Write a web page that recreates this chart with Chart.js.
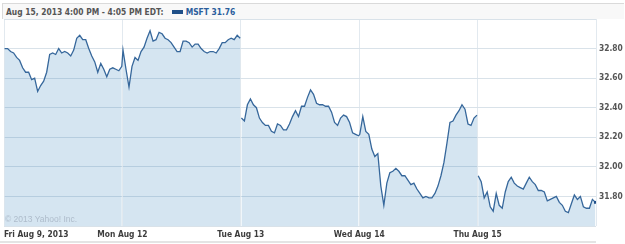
<!DOCTYPE html>
<html>
<head>
<meta charset="utf-8">
<script src="https://cdn.jsdelivr.net/npm/chart.js@4"></script>
<style>
  body { margin: 0; background: #fff; }
  #wrap { position: relative; width: 625px; height: 244px; }
  #head {
    position: absolute; left: 2px; top: 3px; width: 622px; height: 16px;
    border-top: 1px solid #dadada; border-left: 1px solid #dadada;
    background: #f8f8f8; box-sizing: border-box;
    font: bold 8.4px "DejaVu Sans Condensed", "DejaVu Sans", sans-serif;
    color: #555; line-height: 16px; padding-left: 3px; white-space: nowrap;
  }
  #head .mark { display: inline-block; width: 11px; height: 4px; background: #1f4f88; margin: 0 3px 0 8px; vertical-align: 1px; }
  #head .sym { color: #2b5e9c; }
  #copy {
    position: absolute; left: 5px; top: 214px;
    font: 8.5px "Liberation Sans", Arial, sans-serif; color: #aebccb;
  }
  #foot { position: absolute; left: 0; top: 241px; width: 596px; height: 2px; background: #e4e4e4; }
</style>
</head>
<body>
<div id="wrap">
  <canvas id="line-chart"></canvas>
  <div id="head">Aug 15, 2013 4:00 PM - 4:05 PM EDT:<span class="mark"></span><span class="sym">MSFT 31.76</span></div>
  <div id="copy">&copy; 2013 Yahoo! Inc.</div>
  <div id="foot"></div>
</div>
<script>
var dayLabels = ["Fri Aug 9, 2013", "Mon Aug 12", "Tue Aug 13", "Wed Aug 14", "Thu Aug 15", ""];

// MSFT price through each session
var fri = [32.80, 32.80, 32.78, 32.77, 32.74, 32.72, 32.67, 32.64, 32.64, 32.59, 32.60, 32.51, 32.55, 32.58, 32.64, 32.76, 32.77, 32.76, 32.80, 32.77,
  32.78, 32.77, 32.75, 32.79, 32.87, 32.89, 32.86, 32.86, 32.80, 32.75, 32.71, 32.64, 32.70, 32.66, 32.61, 32.66, 32.67, 32.66, 32.65, 32.68];
var mon = [32.79, 32.66, 32.54, 32.68, 32.74, 32.72, 32.78, 32.81, 32.87, 32.92, 32.85, 32.86, 32.91, 32.90, 32.87, 32.86, 32.84, 32.81, 32.78, 32.78,
  32.85, 32.85, 32.84, 32.81, 32.83, 32.83, 32.80, 32.78, 32.77, 32.78, 32.78, 32.77, 32.80, 32.84, 32.84, 32.86, 32.87, 32.86, 32.89, 32.87];
var tue = [32.33, 32.31, 32.42, 32.46, 32.42, 32.40, 32.33, 32.30, 32.28, 32.28, 32.24, 32.23, 32.29, 32.28, 32.25, 32.25, 32.29, 32.34, 32.38, 32.34,
  32.41, 32.41, 32.47, 32.52, 32.49, 32.43, 32.42, 32.42, 32.41, 32.41, 32.37, 32.30, 32.28, 32.33, 32.35, 32.34, 32.30, 32.23, 32.22, 32.21];
var wed = [32.22, 32.34, 32.24, 32.22, 32.12, 32.07, 32.09, 31.87, 31.74, 31.89, 31.96, 31.97, 31.99, 31.97, 31.94, 31.94, 31.91, 31.88, 31.89, 31.85,
  31.82, 31.79, 31.80, 31.79, 31.79, 31.82, 31.87, 31.94, 32.03, 32.16, 32.30, 32.31, 32.35, 32.38, 32.42, 32.39, 32.29, 32.28, 32.33, 32.35];
var thu = [31.94, 31.90, 31.79, 31.83, 31.73, 31.70, 31.82, 31.74, 31.72, 31.83, 31.90, 31.93, 31.89, 31.87, 31.86, 31.85, 31.89, 31.93, 31.90, 31.88,
  31.84, 31.84, 31.83, 31.77, 31.78, 31.79, 31.80, 31.76, 31.74, 31.70, 31.69, 31.75, 31.81, 31.78, 31.80, 31.73, 31.72, 31.72, 31.78, 31.76];

var days = [fri, mon, tue, wed, thu];

// spread each session across its day, null where the series breaks
function buildPoints(breaks) {
  var pts = [];
  days.forEach(function (vals, d) {
    if (breaks.indexOf(d) >= 0) pts.push({ x: d, y: null });
    vals.forEach(function (v, k) {
      pts.push({ x: d + 0.005 + k * 0.99 / (vals.length - 1), y: v });
    });
  });
  return pts;
}

var fillPts = buildPoints([1, 2, 3, 4]);
var linePts = buildPoints([2, 4]);
var lastIdx = linePts.length - 1;

new Chart(document.getElementById("line-chart"), {
  type: 'line',
  data: {
    datasets: [{
      data: linePts,
      borderColor: "#36679b",
      borderWidth: 1.3,
      fill: false,
      pointRadius: function (c) { return c.dataIndex === lastIdx ? 2 : 0; },
      pointStyle: 'rect',
      pointBackgroundColor: "#1f4f88",
      pointBorderWidth: 0,
      spanGaps: false,
      order: 0
    }, {
      data: fillPts,
      borderWidth: 0,
      borderColor: "rgba(0,0,0,0)",
      backgroundColor: "rgba(45,125,185,0.2)",
      fill: 'start',
      pointRadius: 0,
      spanGaps: false,
      order: 1
    }]
  },
  options: {
    responsive: true,
    maintainAspectRatio: false,
    animation: false,
    layout: { padding: { top: 19, left: 3, right: 0, bottom: 0 } },
    plugins: { legend: { display: false }, tooltip: { enabled: false } },
    scales: {
      x: {
        type: 'linear',
        min: 0,
        max: 5,
        afterFit: function (s) { s.height = 18; },
        border: { display: false },
        grid: { color: "#e2e9ef", drawTicks: false },
        ticks: {
          stepSize: 1,
          autoSkip: false,
          maxRotation: 0,
          align: 'inner',
          padding: 4,
          color: "#3d3d3d",
          font: { family: "'DejaVu Sans Condensed', 'DejaVu Sans', sans-serif", size: 8.4, weight: 'bold' },
          callback: function (v) { return dayLabels[v] || ""; }
        }
      },
      y: {
        position: 'right',
        min: 31.6,
        max: 33.0,
        afterFit: function (s) { s.width = 29; },
        border: { display: false },
        grid: { color: "#d9e2e9", drawTicks: false },
        ticks: {
          stepSize: 0.2,
          padding: 3,
          color: "#555",
          font: { family: "'DejaVu Sans Condensed', 'DejaVu Sans', sans-serif", size: 8.4, weight: 'bold' },
          callback: function (v) { return (v < 31.7 || v > 32.9) ? "" : v.toFixed(2); }
        }
      }
    }
  }
});
</script>
</body>
</html>
